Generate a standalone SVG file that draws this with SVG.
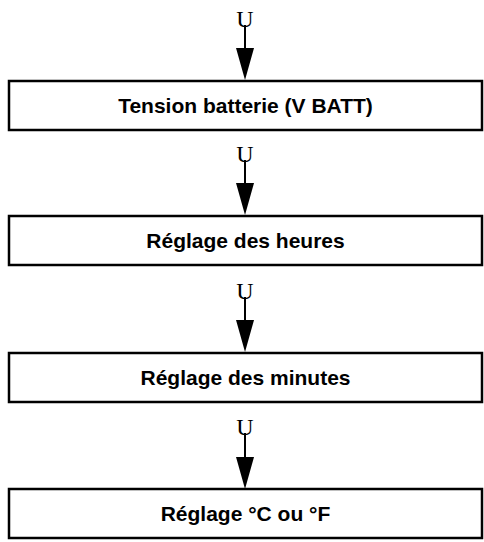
<svg xmlns="http://www.w3.org/2000/svg" width="484" height="542" viewBox="0 0 484 542">
<style>
.box{fill:#fff;stroke:#000;stroke-width:2.5}
.lbl{font-family:"Liberation Sans",Arial,sans-serif;font-weight:bold;font-size:21px;text-anchor:middle;fill:#000}
.u{font-family:"Liberation Serif","Times New Roman",serif;font-size:24px;text-anchor:middle;fill:#000}
.ln{stroke:#000;stroke-width:2;fill:none}
.hd{fill:#000}
</style>
<rect width="484" height="542" fill="#fff"/>
<g id="connectors">
<g id="c0"><text class="u" x="245" y="27">U</text><line class="ln" x1="245" y1="25" x2="245" y2="50"/><polygon class="hd" points="236,48 254,48 245,80"/></g>
<g id="c1"><text class="u" x="245" y="162">U</text><line class="ln" x1="245" y1="160" x2="245" y2="185"/><polygon class="hd" points="236,183 254,183 245,215"/></g>
<g id="c2"><text class="u" x="245" y="299">U</text><line class="ln" x1="245" y1="297" x2="245" y2="322"/><polygon class="hd" points="236,320 254,320 245,352"/></g>
<g id="c3"><text class="u" x="245" y="435">U</text><line class="ln" x1="245" y1="433" x2="245" y2="459"/><polygon class="hd" points="236,457 254,457 245,489"/></g>
</g>
<g id="n1"><rect class="box" x="9" y="81" width="473" height="49"/><text class="lbl" x="245.5" y="113">Tension batterie (V BATT)</text></g>
<g id="n2"><rect class="box" x="9" y="216" width="473" height="49"/><text class="lbl" x="245.5" y="248">Réglage des heures</text></g>
<g id="n3"><rect class="box" x="9" y="353" width="473" height="49"/><text class="lbl" x="245.5" y="385">Réglage des minutes</text></g>
<g id="n4"><rect class="box" x="9" y="489" width="473" height="49"/><text class="lbl" x="245.5" y="521">Réglage °C ou °F</text></g>
</svg>
